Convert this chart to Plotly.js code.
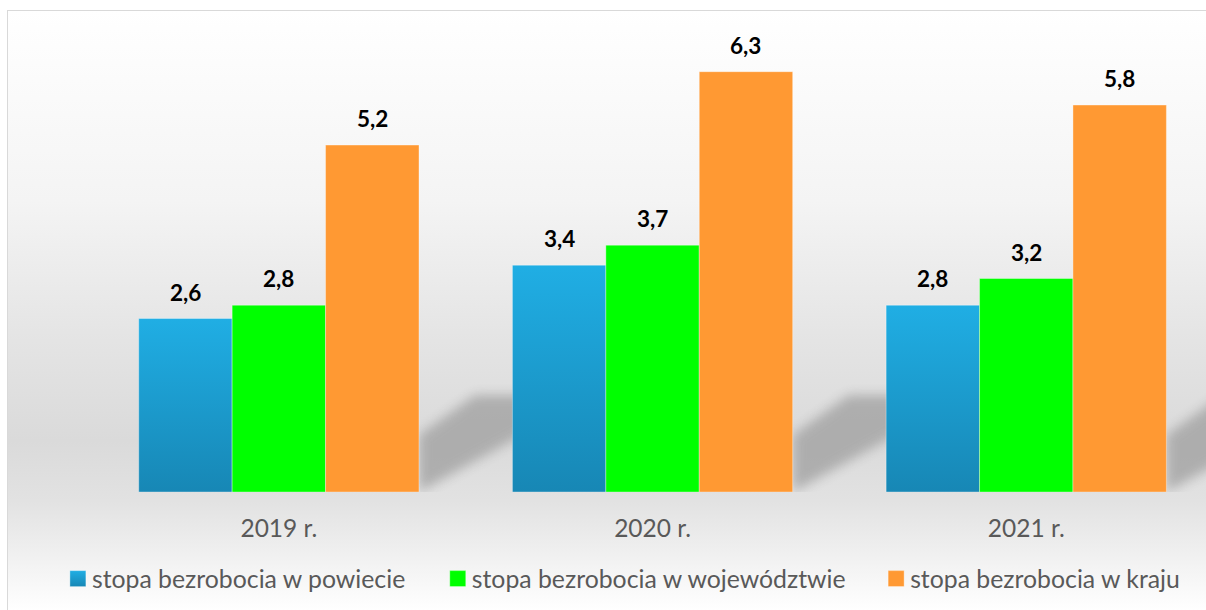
<!DOCTYPE html>
<html>
<head>
<meta charset="utf-8">
<script src="https://cdn.plot.ly/plotly-3.0.1.min.js"></script>
<style>
html,body{margin:0;padding:0;width:1206px;height:610px;overflow:hidden;background:#fff;}
#frame{position:absolute;left:7px;top:10px;width:1220px;height:620px;border:1.5px solid #d9d9d9;
background:linear-gradient(to bottom,#ffffff 0px,#f4f4f4 190px,#e4e4e4 330px,#dadada 430px,#e2e2e2 490px,#efefef 540px,#ffffff 600px);}
#chart{position:absolute;left:0;top:0;width:1206px;height:610px;}
</style>
</head>
<body>
<div id="frame"></div>
<div id="chart"></div>
<script>
var categories = ["2019 r.", "2020 r.", "2021 r."];
var seriesNames = ["stopa bezrobocia w powiecie", "stopa bezrobocia w województwie", "stopa bezrobocia w kraju"];
var powiat = [2.6, 3.4, 2.8];
var wojewodztwo = [2.8, 3.7, 3.2];
var kraj = [5.2, 6.3, 5.8];
var colors = ["#1ca4da", "#00ff00", "#ff9933"];

var seriesValues = [powiat, wojewodztwo, kraj];
var legendIds = ['legend', 'legend2', 'legend3'];
var fmt = function(v){ return v.toFixed(1).replace('.', ','); };
var FONT = 'Lato, "Open Sans", sans-serif';

var traces = seriesValues.map(function(vals, i){
  return {
    type: 'bar', x: categories, y: vals, name: seriesNames[i], legend: legendIds[i],
    marker: {color: colors[i], line: {color: 'rgba(255,255,255,0.35)', width: 1}},
    hoverinfo: 'none'
  };
});

var annotations = [];
seriesValues.forEach(function(vals, i){
  vals.forEach(function(v, j){
    annotations.push({
      x: j + (i - 1) * 0.25, y: v, xref: 'x', yref: 'y',
      text: '<b>' + fmt(v) + '</b>', showarrow: false,
      yanchor: 'bottom', yshift: 11,
      font: {family: FONT, size: 22.5, color: '#000'}
    });
  });
});

// soft diagonal shadow behind each group (decoration, anchored to group positions)
var shapes = categories.map(function(c, j){
  var xr = j + 0.375;
  return {
    type: 'path', layer: 'below', xref: 'x', yref: 'y',
    path: 'M' + xr + ',0 L' + xr + ',0.85 L' + (xr + 0.15) + ',1.45 L' + (xr + 0.42) + ',1.45 L' + (xr + 0.42) + ',1.3 Z',
    fillcolor: '#a9a9a9', line: {width: 0}, opacity: 0.9
  };
});

var legFont = {family: FONT, size: 24.8, color: '#595959'};
var legendPos = [-0.036, 0.305, 0.6985];
var layout = {
  width: 1206, height: 610,
  margin: {l: 92, r: 0, t: 25, b: 118},
  paper_bgcolor: 'rgba(0,0,0,0)', plot_bgcolor: 'rgba(0,0,0,0)',
  barmode: 'group', bargap: 0.25, bargroupgap: 0,
  showlegend: true,
  xaxis: {type: 'category', range: [-0.5, 2.481], showgrid: false, zeroline: false, showline: false,
    ticks: '', ticklabelstandoff: 19,
    tickfont: {family: FONT, size: 24.5, color: '#595959'}},
  yaxis: {range: [0, 7], visible: false, showgrid: false, zeroline: false},
  annotations: annotations,
  shapes: shapes,
  font: {family: FONT}
};
legendIds.forEach(function(id, i){
  layout[id] = {orientation: 'h', x: legendPos[i], xanchor: 'left', y: -0.1863, yanchor: 'middle',
    font: legFont, bgcolor: 'rgba(0,0,0,0)', borderwidth: 0};
});

Plotly.newPlot('chart', traces, layout, {staticPlot: true, displayModeBar: false}).then(function(gd){
  var svg = gd.querySelector('svg.main-svg');
  var ns = 'http://www.w3.org/2000/svg';
  var defs = svg.querySelector('defs') || svg.insertBefore(document.createElementNS(ns, 'defs'), svg.firstChild);
  var lg = document.createElementNS(ns, 'linearGradient');
  lg.setAttribute('id', 'blueGrad'); lg.setAttribute('x1', '0'); lg.setAttribute('y1', '0');
  lg.setAttribute('x2', '0'); lg.setAttribute('y2', '1');
  [['0', '#20aee4'], ['1', '#1787b5']].forEach(function(s){
    var st = document.createElementNS(ns, 'stop');
    st.setAttribute('offset', s[0]); st.setAttribute('stop-color', s[1]);
    lg.appendChild(st);
  });
  defs.appendChild(lg);
  var flt = document.createElementNS(ns, 'filter');
  flt.setAttribute('id', 'shadowBlur'); flt.setAttribute('x', '-50%'); flt.setAttribute('y', '-50%');
  flt.setAttribute('width', '200%'); flt.setAttribute('height', '200%');
  var gb = document.createElementNS(ns, 'feGaussianBlur');
  gb.setAttribute('stdDeviation', '6');
  flt.appendChild(gb);
  defs.appendChild(flt);
  gd.querySelectorAll('.shapelayer path').forEach(function(p){ p.setAttribute('filter', 'url(#shadowBlur)'); p.style.filter = 'url(#shadowBlur)'; });

  var bars = gd.querySelectorAll('.barlayer .trace.bars')[0];
  if (bars) bars.querySelectorAll('path').forEach(function(p){ p.style.fill = 'url(#blueGrad)'; });
  gd.querySelectorAll('.legendpoints path').forEach(function(p){ p.setAttribute('d', 'M14,8H-2V-8H14Z'); });
  var firstLeg = gd.querySelector('.infolayer .legend .legendpoints path');
  if (firstLeg) firstLeg.style.fill = 'url(#blueGrad)';
});
</script>
</body>
</html>
